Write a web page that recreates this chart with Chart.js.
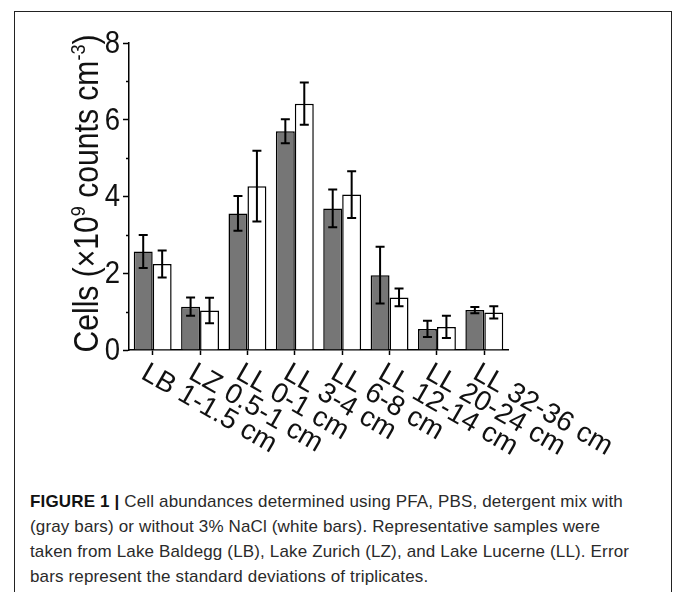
<!DOCTYPE html>
<html lang="en">
<head>
<meta charset="UTF-8" />
<title>Figure 1 – Cell abundances</title>
<script src="https://cdn.jsdelivr.net/npm/chart.js"></script>
<style>
  html, body { margin: 0; padding: 0; background: #fff; }
  body { width: 673px; height: 592px; position: relative; overflow: hidden; font-family: "Liberation Sans", Arial, sans-serif; }
  .frame { position: absolute; left: 14px; top: 11px; width: 658px; height: 620px; border: 1px solid #222; border-bottom: none; box-sizing: border-box; }
  .plot { position: absolute; left: 0; top: 0; width: 673px; height: 470px; }
  .caption { position: absolute; left: 30px; top: 489px; font-size: 17px; line-height: 25px; letter-spacing: 0.15px; color: #2a2a2a; white-space: nowrap; }
  .caption b { color: #111; }
</style>
</head>
<body>
  <div class="frame"></div>
  <div class="plot"><canvas id="cellChart"></canvas></div>
  <div class="caption">
    <b>FIGURE 1 |</b> Cell abundances determined using PFA, PBS, detergent mix with<br>
    (gray bars) or without 3% NaCl (white bars). Representative samples were<br>
    taken from Lake Baldegg (LB), Lake Zurich (LZ), and Lake Lucerne (LL). Error<br>
    bars represent the standard deviations of triplicates.
  </div>

<script>
// sample sites / depths
const samples = ['LB 1-1.5 cm', 'LZ 0.5-1 cm', 'LL 0-1 cm', 'LL 3-4 cm', 'LL 6-8 cm', 'LL 12-14 cm', 'LL 20-24 cm', 'LL 32-36 cm'];
// with 3% NaCl (gray bars), x10^9 counts cm^-3
const withNaCl   = [2.57, 1.13, 3.56, 5.70, 3.69, 1.95, 0.55, 1.04];
const withNaClSd = [0.43, 0.24, 0.45, 0.31, 0.49, 0.74, 0.21, 0.08];
// without NaCl (white bars)
const withoutNaCl   = [2.24, 1.03, 4.27, 6.42, 4.05, 1.37, 0.60, 0.98];
const withoutNaClSd = [0.35, 0.33, 0.92, 0.55, 0.61, 0.23, 0.29, 0.16];
const yTicks = [0, 2, 4, 6, 8];
const minorTicks = [1, 3, 5, 7];
const yTitle = [['Cells (\u00d710', false], ['9', true], [' counts cm', false], ['-3', true], [')', false]];

const sds = [withNaClSd, withoutNaClSd];
const FONT = '"Liberation Sans", Arial, sans-serif';
const NARROW = 0.86; // the figure's typeface is a bit narrower than Arial

// error bars, minor ticks, tick labels and the y title
const extras = {
  id: 'extras',
  afterDatasetsDraw(chart) {
    const ctx = chart.ctx, y = chart.scales.y;
    ctx.save();
    ctx.strokeStyle = '#000';
    ctx.lineWidth = 2;
    chart.data.datasets.forEach((ds, i) => {
      chart.getDatasetMeta(i).data.forEach((bar, j) => {
        const v = ds.data[j], sd = sds[i][j];
        const top = y.getPixelForValue(v + sd), bot = y.getPixelForValue(v - sd);
        ctx.beginPath();
        ctx.moveTo(bar.x, top); ctx.lineTo(bar.x, bot);
        ctx.moveTo(bar.x - 4.5, top); ctx.lineTo(bar.x + 4.5, top);
        ctx.moveTo(bar.x - 4.5, bot); ctx.lineTo(bar.x + 4.5, bot);
        ctx.stroke();
      });
    });
    ctx.restore();
  },
  afterDraw(chart) {
    const ctx = chart.ctx, x = chart.scales.x, y = chart.scales.y;
    const area = chart.chartArea;
    ctx.save();
    // minor y ticks
    ctx.strokeStyle = '#000';
    ctx.lineWidth = 1.5;
    minorTicks.forEach(v => {
      const py = Math.round(y.getPixelForValue(v)) + 0.5;
      ctx.beginPath(); ctx.moveTo(area.left - 3, py); ctx.lineTo(area.left, py); ctx.stroke();
    });
    ctx.fillStyle = '#111';
    // y tick labels
    ctx.font = '32px ' + FONT;
    ctx.textAlign = 'right';
    ctx.textBaseline = 'middle';
    yTicks.forEach(v => {
      ctx.save();
      ctx.translate(area.left - 9, y.getPixelForValue(v) + 1);
      ctx.scale(NARROW, 1);
      ctx.fillText(String(v), 0, 0);
      ctx.restore();
    });
    // x labels, rotated down to the right
    ctx.font = '28px ' + FONT;
    ctx.textAlign = 'left';
    ctx.textBaseline = 'top';
    samples.forEach((s, i) => {
      ctx.save();
      ctx.translate(x.getPixelForValue(i) - 2, area.bottom + 9);
      ctx.rotate(30 * Math.PI / 180);
      ctx.fillText(s, 0, 0);
      ctx.restore();
    });
    // y axis title with superscripts
    ctx.save();
    ctx.translate(98, (area.top + area.bottom) / 2 - 3);
    ctx.rotate(-Math.PI / 2);
    ctx.scale(NARROW, 1);
    ctx.textAlign = 'left';
    ctx.textBaseline = 'alphabetic';
    const big = '35px ' + FONT, small = '21px ' + FONT;
    let total = 0;
    yTitle.forEach(([t, sup]) => { ctx.font = sup ? small : big; total += ctx.measureText(t).width; });
    let px = -total / 2;
    yTitle.forEach(([t, sup]) => {
      ctx.font = sup ? small : big;
      ctx.fillText(t, px, sup ? -13 : 0);
      px += ctx.measureText(t).width;
    });
    ctx.restore();
    ctx.restore();
  }
};

new Chart(document.getElementById('cellChart'), {
  type: 'bar',
  data: {
    labels: samples,
    datasets: [
      { label: 'with 3% NaCl', data: withNaCl, backgroundColor: '#767676', borderColor: '#000', borderWidth: 1.5,
        categoryPercentage: 0.8, barPercentage: 1.0 },
      { label: 'without NaCl', data: withoutNaCl, backgroundColor: '#fff', borderColor: '#000', borderWidth: 1.5,
        categoryPercentage: 0.8, barPercentage: 1.0 }
    ]
  },
  options: {
    responsive: true,
    maintainAspectRatio: false,
    animation: false,
    layout: { padding: { top: 43, right: 165, bottom: 115, left: 0 } },
    plugins: { legend: { display: false }, tooltip: { enabled: false } },
    scales: {
      x: {
        ticks: { display: false },
        grid: { drawOnChartArea: false, offset: false, tickLength: 5, tickWidth: 1.5, tickColor: '#000' },
        border: { color: '#000', width: 1.5 },
        afterFit(scale) { scale.height = 5; }
      },
      y: {
        min: 0, max: 8,
        ticks: { stepSize: 2, display: false },
        grid: { drawOnChartArea: false, tickLength: 6, tickWidth: 1.5, tickColor: '#000' },
        border: { color: '#000', width: 1.5 },
        afterFit(scale) { scale.width = 129; }
      }
    }
  },
  plugins: [extras]
});
</script>
</body>
</html>
